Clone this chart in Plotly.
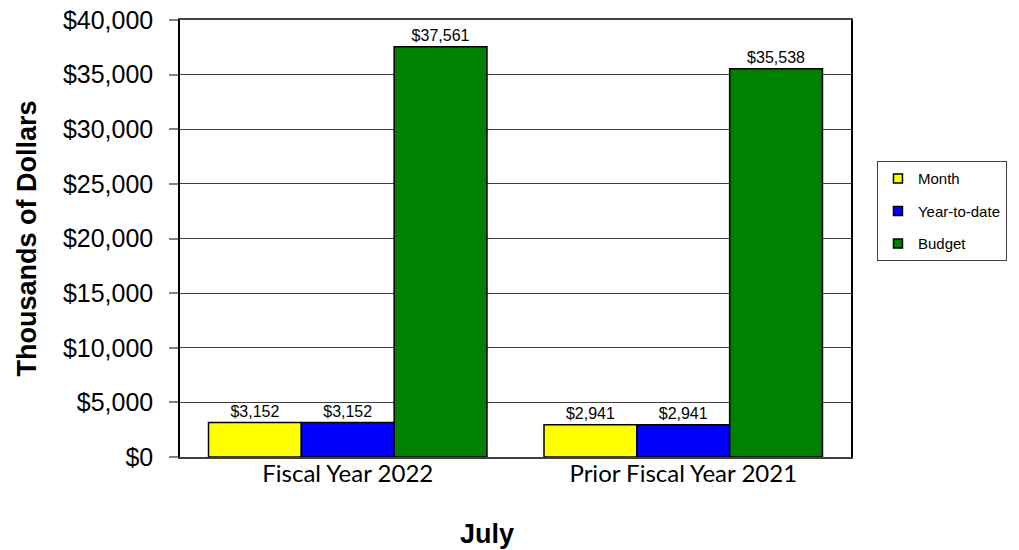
import plotly.graph_objects as go

categories = ["Fiscal Year 2022", "Prior Fiscal Year 2021"]
month = [3152, 2941]
year_to_date = [3152, 2941]
budget = [37561, 35538]
y_ticks = [0, 5000, 10000, 15000, 20000, 25000, 30000, 35000, 40000]
y_tick_labels = ["$" + format(v, ",") for v in y_ticks]

series = [
    ("Month", month, "#FFFF00"),
    ("Year-to-date", year_to_date, "#0000FF"),
    ("Budget", budget, "#008000"),
]

fig = go.Figure()
for name, vals, color in series:
    fig.add_trace(go.Bar(
        name=name,
        x=categories,
        y=vals,
        showlegend=False,
        marker=dict(color=color, line=dict(color="#000000", width=1.5)),
        texttemplate="$%{y:,}",
        textposition="outside",
        textfont=dict(family="Arial", size=16, color="#000000"),
        cliponaxis=False,
    ))

# small square swatches for the legend
for name, vals, color in series:
    fig.add_trace(go.Scatter(
        name=name,
        x=[None], y=[None],
        mode="markers",
        legendgroup=name,
        marker=dict(symbol="square", size=9, color=color,
                    line=dict(color="#000000", width=1.5)),
    ))

fig.update_layout(
    width=1019,
    height=550,
    barmode="group",
    bargap=0.17,
    bargroupgap=0,
    plot_bgcolor="#FFFFFF",
    paper_bgcolor="#FFFFFF",
    margin=dict(l=180, r=168, t=20, b=93),
    font=dict(family="Arial", color="#000000"),
    legend=dict(
        x=1.0387, y=0.677, xanchor="left", yanchor="top",
        bordercolor="#404040", borderwidth=1,
        font=dict(family="Arial", size=15),
        tracegroupgap=10,
        itemwidth=30,
    ),
    annotations=[dict(
        text="<b>July</b>",
        xref="paper", yref="paper",
        x=0.4575, y=-0.176, xanchor="center", yanchor="middle",
        showarrow=False,
        font=dict(family="Arial", size=27, color="#000000"),
    )],
)

fig.update_xaxes(
    showline=True, linecolor="#404040", linewidth=1.5, mirror=True,
    ticks="", showgrid=False, automargin=False,
    tickfont=dict(family="Lato", size=24, color="#000000"),
    ticklabelstandoff=-6,
)
fig.update_yaxes(
    range=[0, 40000],
    tickmode="array",
    tickvals=y_ticks,
    ticktext=y_tick_labels,
    showline=True, linecolor="#000000", linewidth=1.5, mirror=True,
    ticks="outside", ticklen=9, tickcolor="#808080", tickwidth=1.5,
    showgrid=True, gridcolor="#404040", gridwidth=1,
    zeroline=False, automargin=False,
    tickfont=dict(family="Arial", size=25, color="#000000"),
    ticklabelstandoff=11,
    title=dict(text="<b>Thousands of Dollars</b>", font=dict(family="Arial", size=27), standoff=18),
)

fig.write_html("out.html")
